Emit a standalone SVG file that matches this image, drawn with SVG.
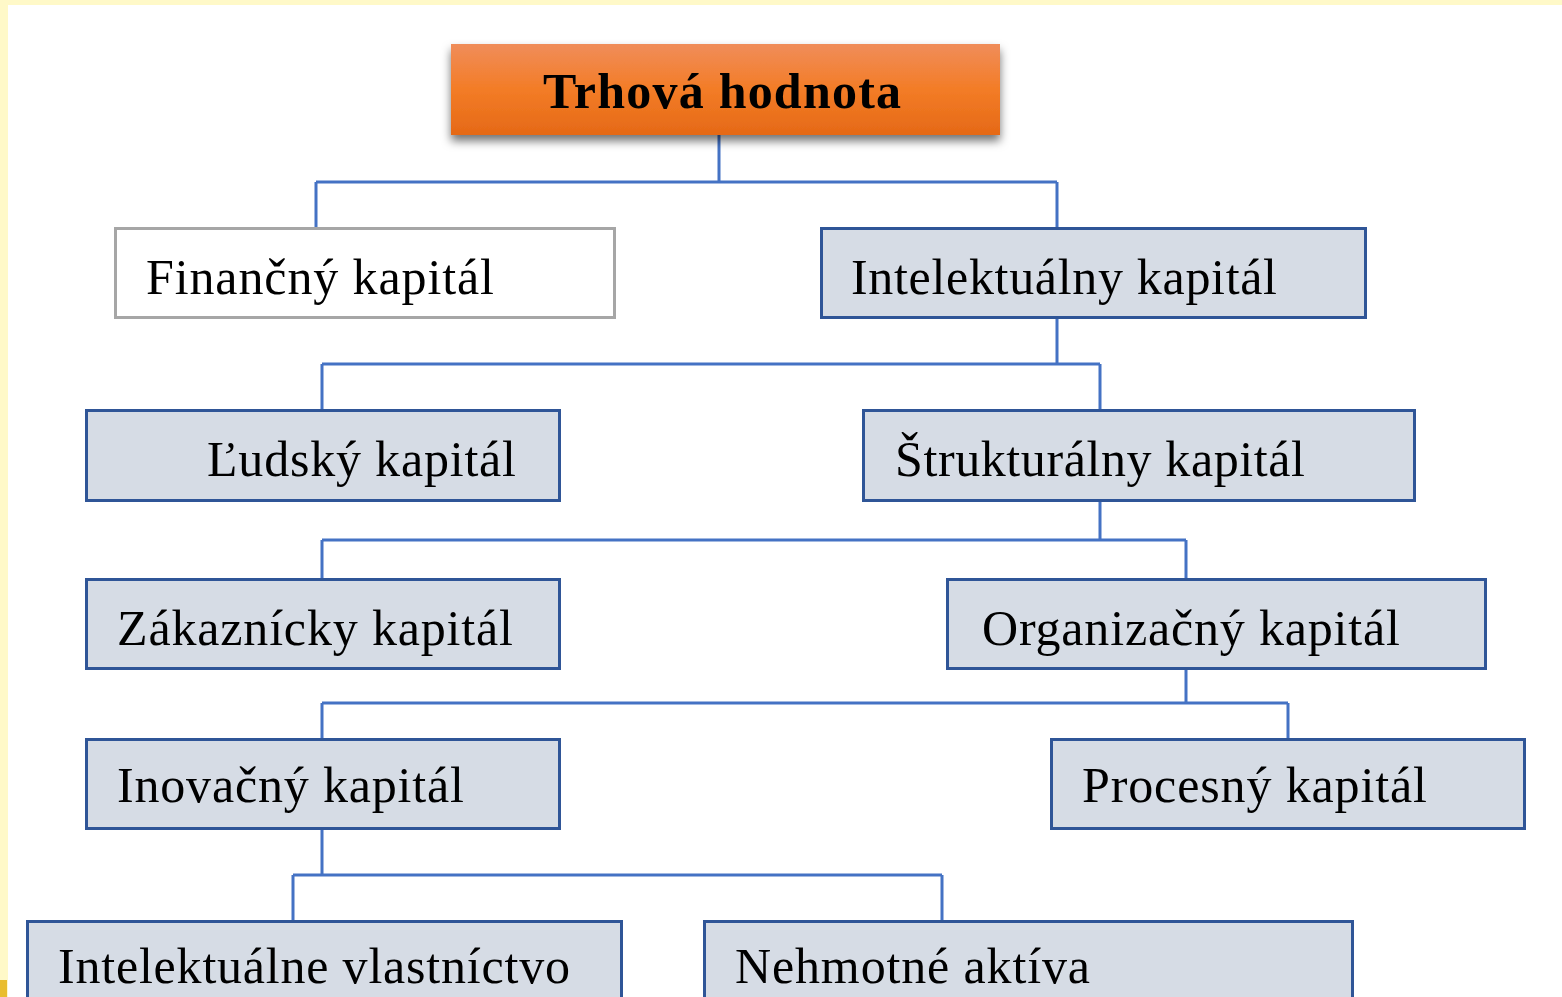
<svg xmlns="http://www.w3.org/2000/svg" width="1562" height="997" viewBox="0 0 1562 997">
  <style>
    .box { fill: #D6DCE5; stroke: #2F5597; stroke-width: 3; }
    .plain { fill: #FFFFFF; stroke: #A6A6A6; stroke-width: 3; }
    .lbl { font-family: "Liberation Serif", "Times New Roman", serif; font-size: 50px; fill: #000000; }
    .title { font-family: "Liberation Serif", "Times New Roman", serif; font-size: 50px; font-weight: bold; fill: #000000; }
    .wire { fill: none; stroke: #4472C4; stroke-width: 3; }
  </style>
  <defs>
    <linearGradient id="orangeFill" x1="0" y1="0" x2="0" y2="1">
      <stop offset="0" stop-color="#F08D5A"/>
      <stop offset="0.5" stop-color="#F37C26"/>
      <stop offset="1" stop-color="#E56917"/>
    </linearGradient>
    <filter id="softShadow" x="-10%" y="-30%" width="120%" height="170%">
      <feDropShadow dx="0" dy="6" stdDeviation="5" flood-color="#000000" flood-opacity="0.55"/>
    </filter>
  </defs>

  <!-- page background and frame -->
  <rect x="0" y="0" width="1562" height="997" fill="#FFFFFF"/>
  <rect x="0" y="0" width="1562" height="5" fill="#FFF9C8"/>
  <rect x="0" y="0" width="8" height="997" fill="#FFF9C8"/>
  <rect x="0" y="980" width="7" height="17" fill="#E9BD2E"/>

  <!-- connectors -->
  <g id="connectors">
    <path class="wire" d="M719 135 V182 M316 182 H1057 M316 182 V227 M1057 182 V227"/>
    <path class="wire" d="M1057 318 V364 M322 364 H1100 M322 364 V409 M1100 364 V409"/>
    <path class="wire" d="M1100 501 V540 M322 540 H1186 M322 540 V578 M1186 540 V578"/>
    <path class="wire" d="M1186 669 V703 M322 703 H1288 M322 703 V738 M1288 703 V738"/>
    <path class="wire" d="M322 829 V875 M293 875 H942 M293 875 V920 M942 875 V920"/>
  </g>

  <!-- root node -->
  <g id="trhova-hodnota">
    <rect x="451" y="44" width="549" height="91" fill="url(#orangeFill)" filter="url(#softShadow)"/>
    <text class="title" x="543" y="108" textLength="358" lengthAdjust="spacing">Trhová hodnota</text>
  </g>

  <g id="financny-kapital">
    <rect class="plain" x="115.5" y="228.5" width="499" height="89"/>
    <text class="lbl" x="146" y="294" textLength="348" lengthAdjust="spacing">Finančný kapitál</text>
  </g>

  <g id="intelektualny-kapital">
    <rect class="box" x="821.5" y="228.5" width="544" height="89"/>
    <text class="lbl" x="851" y="294" textLength="426" lengthAdjust="spacing">Intelektuálny kapitál</text>
  </g>

  <g id="ludsky-kapital">
    <rect class="box" x="86.5" y="410.5" width="473" height="90"/>
    <text class="lbl" x="207" y="476" textLength="309" lengthAdjust="spacing">Ľudský kapitál</text>
  </g>

  <g id="strukturalny-kapital">
    <rect class="box" x="863.5" y="410.5" width="551" height="90"/>
    <text class="lbl" x="895" y="476" textLength="410" lengthAdjust="spacing">Štrukturálny kapitál</text>
  </g>

  <g id="zakaznicky-kapital">
    <rect class="box" x="86.5" y="579.5" width="473" height="89"/>
    <text class="lbl" x="117" y="645" textLength="396" lengthAdjust="spacing">Zákaznícky kapitál</text>
  </g>

  <g id="organizacny-kapital">
    <rect class="box" x="947.5" y="579.5" width="538" height="89"/>
    <text class="lbl" x="982" y="645" textLength="418" lengthAdjust="spacing">Organizačný kapitál</text>
  </g>

  <g id="inovacny-kapital">
    <rect class="box" x="86.5" y="739.5" width="473" height="89"/>
    <text class="lbl" x="117" y="802" textLength="347" lengthAdjust="spacing">Inovačný kapitál</text>
  </g>

  <g id="procesny-kapital">
    <rect class="box" x="1051.5" y="739.5" width="473" height="89"/>
    <text class="lbl" x="1082" y="802" textLength="345" lengthAdjust="spacing">Procesný kapitál</text>
  </g>

  <g id="intelektualne-vlastnictvo">
    <rect class="box" x="27.5" y="921.5" width="594" height="90"/>
    <text class="lbl" x="58" y="983" textLength="512" lengthAdjust="spacing">Intelektuálne vlastníctvo</text>
  </g>

  <g id="nehmotne-aktiva">
    <rect class="box" x="704.5" y="921.5" width="648" height="90"/>
    <text class="lbl" x="735" y="983" textLength="355" lengthAdjust="spacing">Nehmotné aktíva</text>
  </g>
</svg>
